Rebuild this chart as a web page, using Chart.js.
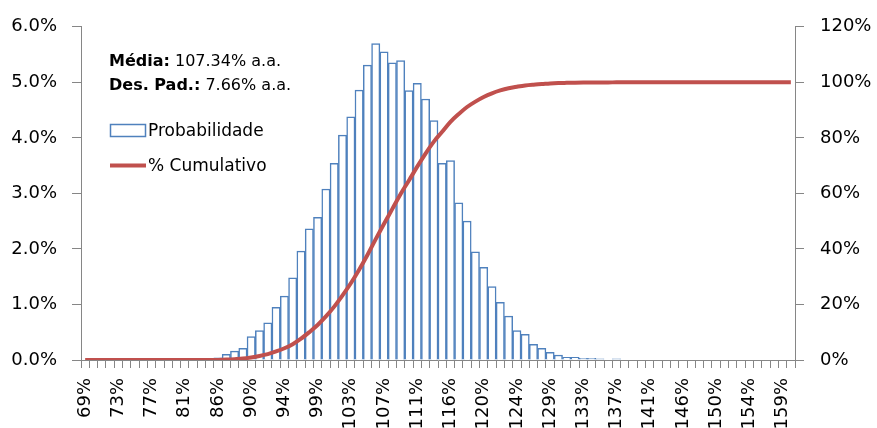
<!DOCTYPE html>
<html>
<head>
<meta charset="utf-8">
<script src="https://cdn.jsdelivr.net/npm/chart.js@4.4.1/dist/chart.umd.min.js"></script>
<style>
html,body{margin:0;padding:0;background:#fff;}
#wrap{position:relative;width:877px;height:428px;}
</style>
</head>
<body>
<div id="wrap"><canvas id="c" width="877" height="428"></canvas></div>
<script>
const categories = ["69%","70%","71%","72%","73%","74%","75%","76%","77%","78%","79%","80%","81%","83%","84%","85%","86%","87%","88%","89%","90%","91%","92%","93%","94%","95%","96%","98%","99%","100%","101%","102%","103%","104%","105%","106%","107%","108%","109%","110%","111%","113%","114%","115%","116%","117%","118%","119%","120%","121%","122%","123%","124%","125%","126%","128%","129%","130%","131%","132%","133%","134%","135%","136%","137%","138%","139%","140%","141%","143%","144%","145%","146%","147%","148%","149%","150%","151%","152%","153%","154%","155%","156%","158%","159%","160%"];

const probabilidade = [0,0,0,0,0,0,0,0,0,0,0,0,0,0,0,0,
  0.04,0.10,0.16,0.21,0.42,0.53,0.67,0.95,1.15,1.48,1.96,2.36,2.57,3.08,3.54,4.05,4.38,4.86,5.31,5.70,
  5.55,5.35,5.39,4.85,4.98,4.70,4.31,3.54,3.59,2.83,2.50,1.95,1.67,1.32,1.04,0.79,0.53,0.46,0.28,0.21,
  0.14,0.09,0.05,0.05,0.03,0.03,0.02,0,0.02,0,0,0,0,0,0,0,0,0,0,0,0,0,0,0,0,0,0,0,0,0];

const cumulativo = [0,0,0,0,0,0,0,0,0,0,0,0,0,0,0,0,
  0.04,0.14,0.30,0.51,0.93,1.46,2.13,3.08,4.23,5.71,7.67,10.03,12.60,15.68,19.22,23.27,27.65,32.51,37.82,43.52,
  49.07,54.42,59.81,64.66,69.64,74.34,78.65,82.19,85.78,88.61,91.11,93.06,94.73,96.05,97.09,97.88,98.41,98.87,99.15,99.36,
  99.60,99.75,99.82,99.88,99.92,99.95,99.97,99.97,100,100,100,100,100,100,100,100,100,100,100,100,100,100,100,100,100,100,100,100,100,100];

const seriesNames = ["Probabilidade", "% Cumulativo"];
const statLabels = ["Média:", "Des. Pad.:"];
const statValues = ["107.34% a.a.", "7.66% a.a."];

const BLUE = '#4F81BD', RED = '#C0504D', AXIS = '#868686';
Chart.defaults.font.family = "'DejaVu Sans'";
Chart.defaults.color = '#000';

const overlay = {
  id: 'overlay',
  afterDraw(chart) {
    const ctx = chart.ctx;
    ctx.save();
    ctx.textBaseline = 'alphabetic';
    ctx.fillStyle = '#000';
    const baselines = [66, 90];
    statLabels.forEach((lab, i) => {
      ctx.font = "bold 16px 'DejaVu Sans'";
      ctx.fillText(lab, 109, baselines[i]);
      const w = ctx.measureText(lab).width;
      ctx.font = "16px 'DejaVu Sans'";
      ctx.fillText(' ' + statValues[i], 109 + w, baselines[i]);
    });
    // legend
    ctx.fillStyle = '#fff';
    ctx.fillRect(110.5, 124.5, 35, 12);
    ctx.strokeStyle = BLUE; ctx.lineWidth = 1.5;
    ctx.strokeRect(110.5, 124.5, 35, 12);
    ctx.strokeStyle = RED; ctx.lineWidth = 4; ctx.lineCap = 'butt';
    ctx.beginPath(); ctx.moveTo(110, 165.5); ctx.lineTo(146, 165.5); ctx.stroke();
    ctx.fillStyle = '#000';
    ctx.font = "17px 'DejaVu Sans'";
    ctx.fillText(seriesNames[0], 148, 136);
    ctx.fillText(seriesNames[1], 148, 171);
    ctx.restore();
  }
};

new Chart(document.getElementById('c'), {
  data: {
    labels: categories,
    datasets: [
      {
        type: 'line', label: seriesNames[1], data: cumulativo, yAxisID: 'y1',
        borderColor: RED, borderWidth: 4, pointRadius: 0, fill: false,
        cubicInterpolationMode: 'monotone', order: 1
      },
      {
        type: 'bar', label: seriesNames[0], data: probabilidade, yAxisID: 'y',
        backgroundColor: '#fff', borderColor: BLUE, borderWidth: 1.5,
        barPercentage: 1, categoryPercentage: 1, order: 2
      }
    ]
  },
  options: {
    responsive: false, animation: false,
    layout: { padding: { top: 24, left: 0, right: 0, bottom: 0 } },
    plugins: { legend: { display: false }, tooltip: { enabled: false } },
    scales: {
      x: {
        type: 'category', offset: true,
        grid: { display: true, drawOnChartArea: false, drawTicks: true, tickLength: 8, color: AXIS, offset: true },
        border: { display: true, color: AXIS, width: 1 },
        ticks: {
          autoSkip: false, maxRotation: 90, minRotation: 90, padding: 10,
          font: { size: 18 }, color: '#000',
          callback: (v, i) => (i % 4 === 0 ? categories[i] : '')
        },
        afterFit: s => { s.height = 68; }
      },
      y: {
        position: 'left', min: 0, max: 6,
        grid: { display: true, drawOnChartArea: false, drawTicks: true, tickLength: 9, color: AXIS },
        border: { display: true, color: AXIS, width: 1 },
        ticks: { stepSize: 1, padding: 15, font: { size: 18 }, color: '#000', callback: v => v.toFixed(1) + '%' },
        afterFit: s => { s.width = 81; }
      },
      y1: {
        position: 'right', min: 0, max: 120,
        grid: { display: true, drawOnChartArea: false, drawTicks: true, tickLength: 9, color: AXIS },
        border: { display: true, color: AXIS, width: 1 },
        ticks: { stepSize: 20, padding: 16, font: { size: 18 }, color: '#000', callback: v => v + '%' },
        afterFit: s => { s.width = 82; }
      }
    }
  },
  plugins: [overlay]
});
</script>
</body>
</html>
